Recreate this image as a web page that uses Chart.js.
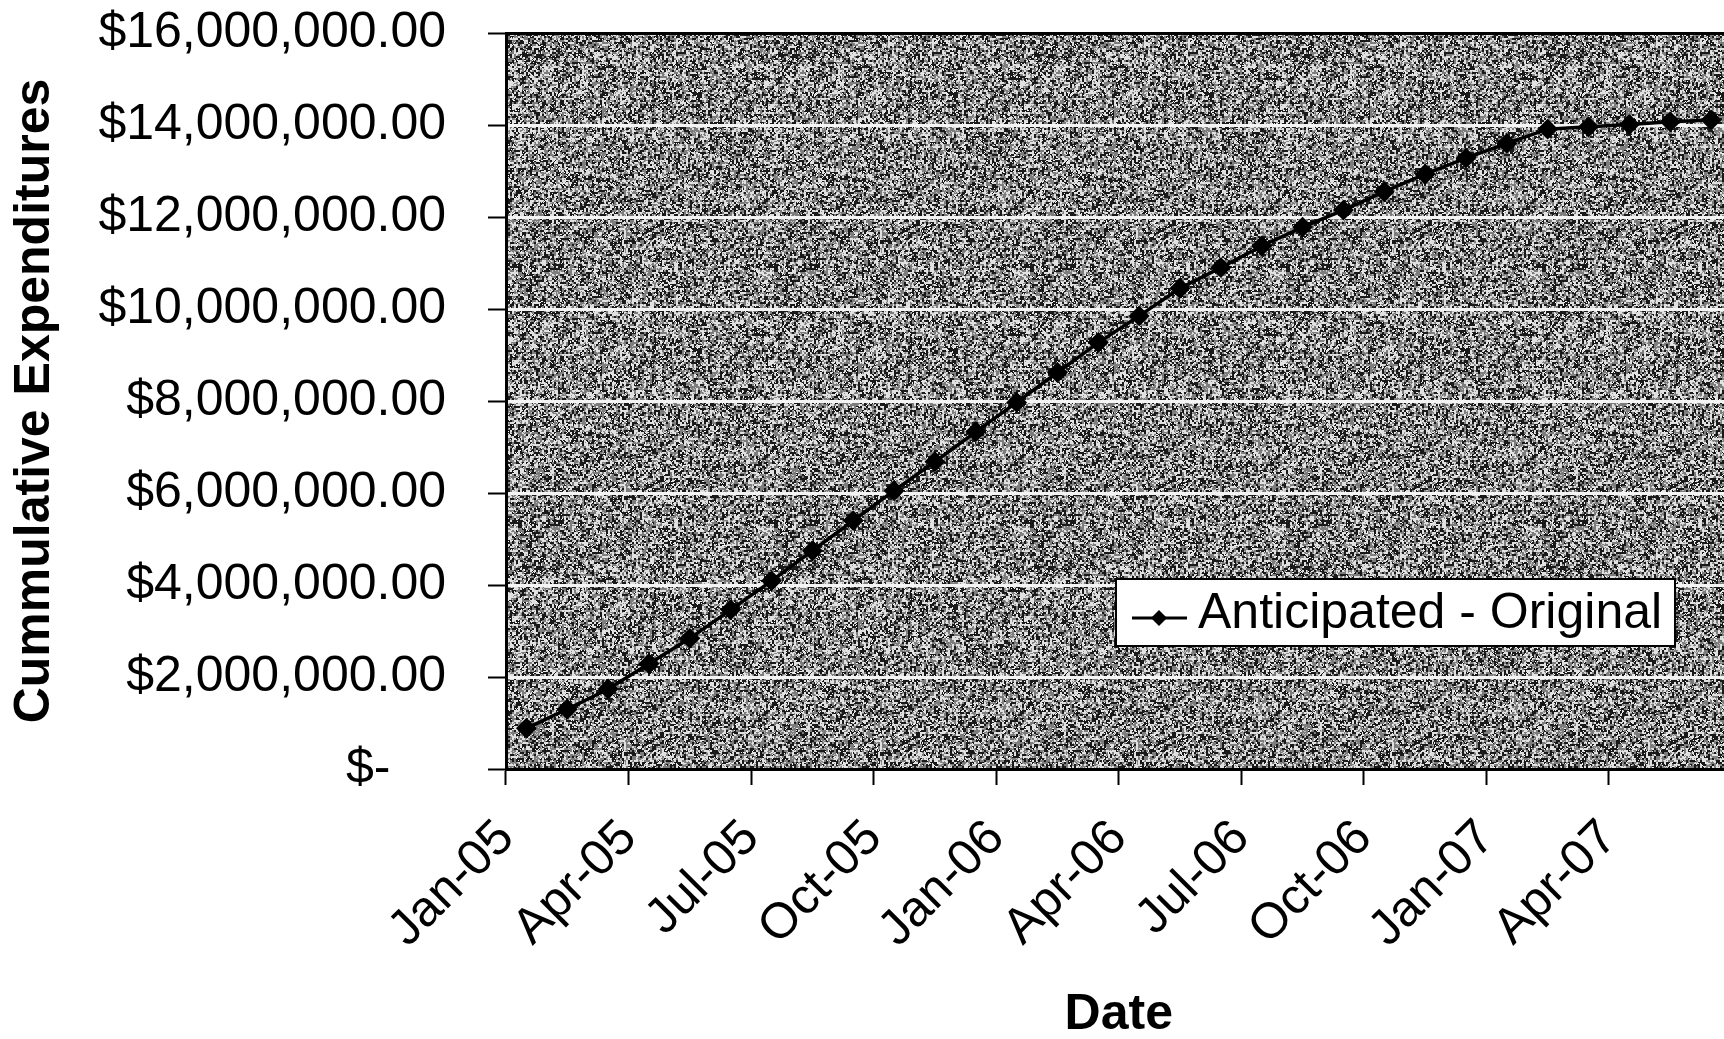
<!DOCTYPE html>
<html>
<head>
<meta charset="utf-8">
<title>Cummulative Expenditures</title>
<script src="https://cdn.jsdelivr.net/npm/chart.js@4.4.1/dist/chart.umd.min.js"></script>
<style>
  html, body { margin: 0; padding: 0; background: #fff; overflow: hidden; }
  #wrap { width: 1743px; height: 1045px; }
</style>
</head>
<body>
<div id="wrap"><canvas id="expChart" width="1743" height="1045"></canvas></div>
<script>
// 月別カテゴリ
const months = [
  "Jan-05", "Feb-05", "Mar-05", "Apr-05", "May-05", "Jun-05",
  "Jul-05", "Aug-05", "Sep-05", "Oct-05", "Nov-05", "Dec-05",
  "Jan-06", "Feb-06", "Mar-06", "Apr-06", "May-06", "Jun-06",
  "Jul-06", "Aug-06", "Sep-06", "Oct-06", "Nov-06", "Dec-06",
  "Jan-07", "Feb-07", "Mar-07", "Apr-07", "May-07", "Jun-07"
];

// 累計支出（見込み・当初）
const anticipated = [
  885000, 1300000, 1740000, 2290000, 2840000, 3460000,
  4090000, 4745000, 5400000, 6050000, 6680000, 7330000,
  7970000, 8620000, 9270000, 9850000, 10450000, 10900000,
  11370000, 11780000, 12150000, 12550000, 12930000, 13280000,
  13600000, 13910000, 13960000, 14010000, 14070000, 14110000
];

// 軸ラベル
const xTickLabels = ["Jan-05", "Apr-05", "Jul-05", "Oct-05", "Jan-06", "Apr-06",
  "Jul-06", "Oct-06", "Jan-07", "Apr-07"];
const yTickValues = [0, 2000000, 4000000, 6000000, 8000000, 10000000, 12000000, 14000000, 16000000];

const FONT = "'Liberation Sans', Arial, sans-serif";

function money(v) {
  if (v === 0) return "$-    ";
  const parts = v.toFixed(2).split(".");
  return "$" + parts[0].replace(/\B(?=(\d{3})+(?!\d))/g, ",") + "." + parts[1];
}

// スキャンしたような灰色の地模様
function makeTexture(ctx) {
  const size = 256, cell = 2;
  const c = document.createElement("canvas");
  c.width = size; c.height = size;
  const g = c.getContext("2d");
  const img = g.createImageData(size, size);
  const hash = (i, j) => {
    let n = Math.imul(i, 374761393) + Math.imul(j, 668265263);
    n = Math.imul(n ^ (n >>> 13), 1274126177);
    n = n ^ (n >>> 16);
    return (n >>> 0) / 4294967296;
  };
  for (let y = 0; y < size; y++) {
    for (let x = 0; x < size; x++) {
      const r = hash(Math.floor(x / cell), Math.floor(y / cell));
      const r2 = hash(x + 977, y + 131);
      let v = r < 0.38 ? 25 : (r < 0.68 ? 125 : 225);
      if (r2 < 0.12) v = 255 - v * 0.5;
      const k = (y * size + x) * 4;
      img.data[k] = img.data[k + 1] = img.data[k + 2] = v;
      img.data[k + 3] = 255;
    }
  }
  g.putImageData(img, 0, 0);
  return ctx.createPattern(c, "repeat");
}

const plotBackground = {
  id: "plotBackground",
  beforeDraw(chart) {
    const { ctx, chartArea: a } = chart;
    ctx.save();
    ctx.fillStyle = makeTexture(ctx);
    ctx.fillRect(a.left, a.top, a.right - a.left, a.bottom - a.top);
    ctx.restore();
  }
};

// 凡例（プロット内）
const innerLegend = {
  id: "innerLegend",
  afterDraw(chart) {
    const { ctx } = chart;
    const ds = chart.data.datasets[0];
    const x = 1116, y = 579, w = 559, h = 67;
    ctx.save();
    ctx.fillStyle = "#fff";
    ctx.fillRect(x, y, w, h);
    ctx.strokeStyle = "#000";
    ctx.lineWidth = 2;
    ctx.strokeRect(x, y, w, h);
    const my = y + 39;
    ctx.beginPath();
    ctx.moveTo(x + 16, my);
    ctx.lineTo(x + 71, my);
    ctx.lineWidth = 3;
    ctx.stroke();
    ctx.beginPath();
    ctx.moveTo(x + 43, my - 8);
    ctx.lineTo(x + 51, my);
    ctx.lineTo(x + 43, my + 8);
    ctx.lineTo(x + 35, my);
    ctx.closePath();
    ctx.fillStyle = "#000";
    ctx.fill();
    ctx.font = "50px " + FONT;
    ctx.textBaseline = "middle";
    ctx.textAlign = "left";
    ctx.fillText(ds.label, x + 82, y + 35);
    ctx.restore();
  }
};

Chart.defaults.font.family = FONT;
Chart.defaults.color = "#000";

const ctx = document.getElementById("expChart").getContext("2d");
new Chart(ctx, {
  type: "line",
  data: {
    labels: months,
    datasets: [{
      label: "Anticipated - Original",
      data: anticipated,
      borderColor: "#000",
      backgroundColor: "#000",
      borderWidth: 3.5,
      pointStyle: "rectRot",
      pointRadius: 8,
      pointBackgroundColor: "#000",
      pointBorderColor: "#000",
      tension: 0,
      fill: false
    }]
  },
  options: {
    responsive: false,
    animation: false,
    devicePixelRatio: 1,
    layout: { padding: { top: 33, right: 0, bottom: 0, left: 0 } },
    plugins: {
      legend: { display: false },
      tooltip: { enabled: false }
    },
    scales: {
      x: {
        offset: true,
        grid: {
          offset: true,
          drawOnChartArea: false,
          drawTicks: true,
          tickLength: 16,
          tickWidth: 2,
          tickColor: (c) => xTickLabels.includes(months[c.index]) ? "#000" : "rgba(0,0,0,0)"
        },
        border: { display: true, color: "#000", width: 3 },
        ticks: {
          autoSkip: false,
          minRotation: 45,
          maxRotation: 45,
          padding: 24,
          labelOffset: -20,
          font: { size: 50 },
          callback: (value, index) => xTickLabels.includes(months[index]) ? months[index] : ""
        },
        title: {
          display: true,
          text: "Date",
          font: { size: 50, weight: "bold" },
          padding: { top: 25, bottom: 0 }
        },
        afterFit: (s) => { s.paddingLeft = 0; s.paddingRight = 0; s.height = 276; }
      },
      y: {
        min: 0,
        max: 16000000,
        afterBuildTicks: (s) => { s.ticks = yTickValues.map(v => ({ value: v })); },
        grid: {
          color: (c) => c.tick && c.tick.value === 16000000 ? "#000" : "#f4f4f4",
          lineWidth: 3,
          tickColor: "#000",
          tickWidth: 2,
          tickLength: 18
        },
        border: { display: true, color: "#000", width: 3 },
        ticks: {
          padding: 42,
          font: { size: 50 },
          callback: (v) => money(v)
        },
        title: {
          display: true,
          text: "Cummulative Expenditures",
          font: { size: 50, weight: "bold" },
          padding: { top: 5, bottom: 34 }
        },
        afterFit: (s) => { s.paddingTop = 0; s.paddingBottom = 0; s.width = 506; }
      }
    }
  },
  plugins: [plotBackground, innerLegend]
});
</script>
</body>
</html>
